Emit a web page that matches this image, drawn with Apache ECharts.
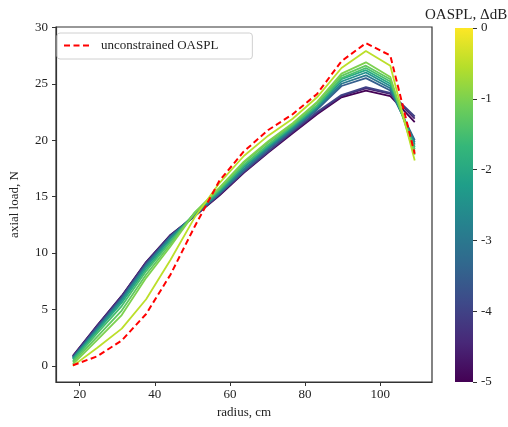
<!DOCTYPE html>
<html>
<head>
<meta charset="utf-8">
<script src="https://cdn.jsdelivr.net/npm/echarts@6/dist/echarts.min.js"></script>
<style>html,body{margin:0;padding:0;background:#fff;}#c{width:508px;height:427px;}</style>
</head>
<body>
<div id="c"></div>
<script>
// ---- data ----
var radius = [18.2, 24.7, 31.2, 37.7, 44.2, 50.7, 57.2, 63.7, 70.2, 76.7, 83.2, 89.7, 96.2, 102.7, 109.2];
var unconstrained = [0.05, 0.85, 2.25, 4.6, 8.1, 12.4, 16.4, 19.0, 20.9, 22.3, 24.1, 27.0, 28.6, 27.5, 18.8];
var levels = [-5.0, -4.5, -4.0, -3.5, -3.0, -2.5, -2.0, -1.5, -1.25, -1.0, -0.5];
var load_m5_0  = [0.9, 3.6, 6.2, 9.2, 11.6, 13.3, 15.1, 17.1, 18.9, 20.6, 22.3, 23.8, 24.4, 23.9, 21.6];
var load_m4_5  = [0.85, 3.6, 6.2, 9.2, 11.6, 13.3, 15.2, 17.2, 19.0, 20.7, 22.4, 23.9, 24.6, 24.1, 21.9];
var load_m4_0  = [0.8, 3.5, 6.1, 9.1, 11.5, 13.3, 15.2, 17.2, 19.0, 20.8, 22.5, 24.0, 24.7, 24.2, 22.1];
var load_m3_5  = [0.75, 3.4, 6.0, 9.0, 11.5, 13.4, 15.3, 17.3, 19.2, 20.9, 22.7, 24.8, 25.5, 24.4, 20.0];
var load_m3_0  = [0.7, 3.3, 5.9, 8.9, 11.4, 13.4, 15.3, 17.4, 19.3, 21.0, 22.8, 25.0, 25.75, 24.6, 19.8];
var load_m2_5  = [0.65, 3.2, 5.8, 8.8, 11.3, 13.5, 15.4, 17.6, 19.4, 21.1, 22.9, 25.2, 26.0, 24.8, 19.6];
var load_m2_0  = [0.6, 3.1, 5.6, 8.6, 11.1, 13.5, 15.5, 17.7, 19.5, 21.2, 23.0, 25.4, 26.2, 25.0, 19.4];
var load_m1_5  = [0.45, 2.9, 5.3, 8.4, 11.0, 13.6, 15.6, 17.8, 19.6, 21.3, 23.1, 25.5, 26.4, 25.2, 19.2];
var load_m1_25 = [0.3, 2.6, 4.9, 8.1, 10.8, 13.6, 15.7, 18.0, 19.8, 21.4, 23.3, 25.7, 26.6, 25.4, 19.0];
var load_m1_0  = [0.15, 2.3, 4.5, 7.8, 10.6, 13.6, 15.8, 18.1, 19.9, 21.5, 23.4, 25.9, 26.9, 25.6, 18.7];
var load_m0_5  = [0.0, 1.6, 3.3, 5.9, 9.4, 13.2, 16.2, 18.6, 20.4, 21.9, 23.8, 26.4, 27.9, 26.6, 18.2];
var lineData = [load_m5_0, load_m4_5, load_m4_0, load_m3_5, load_m3_0, load_m2_5, load_m2_0, load_m1_5, load_m1_25, load_m1_0, load_m0_5];
var yTicks = [0, 5, 10, 15, 20, 25, 30];
var xTicks = [20, 40, 60, 80, 100];

// viridis colormap (style)
var viridis = ['#440154','#482878','#3e4989','#31688e','#26828e','#1f9e89','#35b779','#6ece58','#b5de2b','#fde725'];
function hex2rgb(h){return [parseInt(h.substr(1,2),16),parseInt(h.substr(3,2),16),parseInt(h.substr(5,2),16)];}
function cmap(t){
  t = Math.max(0, Math.min(1, t));
  var p = t * (viridis.length - 1), i = Math.min(Math.floor(p), viridis.length - 2), f = p - i;
  var a = hex2rgb(viridis[i]), b = hex2rgb(viridis[i+1]);
  return 'rgb(' + [0,1,2].map(function(k){return Math.round(a[k] + (b[k]-a[k])*f);}).join(',') + ')';
}

var FONT = 'Liberation Serif';
var AX = '#333';
var FS = 13;
var series = [];
lineData.forEach(function(arr, i){
  series.push({
    type: 'line', xAxisIndex: 0, yAxisIndex: 0, symbol: 'none', silent: true,
    data: radius.map(function(r, j){return [r, arr[j]];}),
    lineStyle: {color: cmap((levels[i] + 5) / 5), width: 1.8},
    z: 2 + i
  });
});
series.push({
  name: 'unconstrained OASPL', type: 'line', xAxisIndex: 0, yAxisIndex: 0, symbol: 'none', silent: true,
  data: radius.map(function(r, j){return [r, unconstrained[j]];}),
  lineStyle: {color: '#ff0000', width: 2, type: [6, 3.5]},
  itemStyle: {color: '#ff0000'},
  z: 20
});
var gradStops = viridis.map(function(c, k){return {offset: 1 - k/(viridis.length-1), color: c};});
series.push({
  type: 'bar', xAxisIndex: 1, yAxisIndex: 1, data: [-5], barWidth: '100%', silent: true,
  itemStyle: {color: new echarts.graphic.LinearGradient(0, 0, 0, 1, gradStops)}
});

var option = {
  animation: false,
  backgroundColor: '#fff',
  textStyle: {fontFamily: FONT},
  title: {text: 'OASPL, \u0394dB', left: 420, top: 3, textStyle: {fontFamily: FONT, fontSize: 15, fontWeight: 'normal', color: '#222'}},
  legend: {
    data: ['unconstrained OASPL'],
    left: 57, top: 33,
    padding: [6, 34, 7, 6],
    itemWidth: 28, itemHeight: 12, itemGap: 5,
    itemStyle: {opacity: 0},
    borderColor: '#d0d0d0', borderWidth: 1, borderRadius: 3,
    textStyle: {fontFamily: FONT, fontSize: FS, color: '#222', padding: [0, 0, 0, 4]}
  },
  grid: [
    {left: 51, right: 76, top: 27, bottom: 45, show: true, borderColor: AX, borderWidth: 1.2, backgroundColor: 'transparent'},
    {left: 455, width: 18, top: 28, bottom: 45, show: false}
  ],
  xAxis: [{
    type: 'value', gridIndex: 0, min: 13.7, max: 113.8,
    name: 'radius, cm', nameLocation: 'middle', nameGap: 23,
    nameTextStyle: {fontFamily: FONT, fontSize: FS, color: '#222'},
    axisLine: {show: true, onZero: false, lineStyle: {color: AX, width: 1.2}},
    axisTick: {show: true, inside: false, length: 4, customValues: xTicks, lineStyle: {color: AX}},
    axisLabel: {customValues: xTicks, fontFamily: FONT, fontSize: FS, color: '#222', margin: 6},
    splitLine: {show: false}
  }, {
    type: 'category', gridIndex: 1, data: ['c'], show: false
  }],
  yAxis: [{
    type: 'value', gridIndex: 0, min: -1.43, max: 30.03,
    name: 'axial load, N', nameLocation: 'middle', nameGap: 35,
    nameTextStyle: {fontFamily: FONT, fontSize: FS, color: '#222'},
    axisLine: {show: true, onZero: false, lineStyle: {color: AX, width: 1.2}},
    axisTick: {show: true, inside: false, length: 4, customValues: yTicks, lineStyle: {color: AX}},
    axisLabel: {customValues: yTicks, fontFamily: FONT, fontSize: FS, color: '#222', margin: 8},
    splitLine: {show: false}
  }, {
    type: 'value', gridIndex: 1, min: -5, max: 0, interval: 1, position: 'right',
    axisLine: {show: false},
    axisTick: {show: true, inside: false, length: 4, lineStyle: {color: AX}},
    axisLabel: {fontFamily: FONT, fontSize: FS, color: '#222', margin: 8, formatter: function(v){return String(v);}},
    splitLine: {show: false}
  }],
  series: series
};
var chart = echarts.init(document.getElementById('c'), null, {renderer: 'canvas'});
chart.setOption(option);
</script>
</body>
</html>
